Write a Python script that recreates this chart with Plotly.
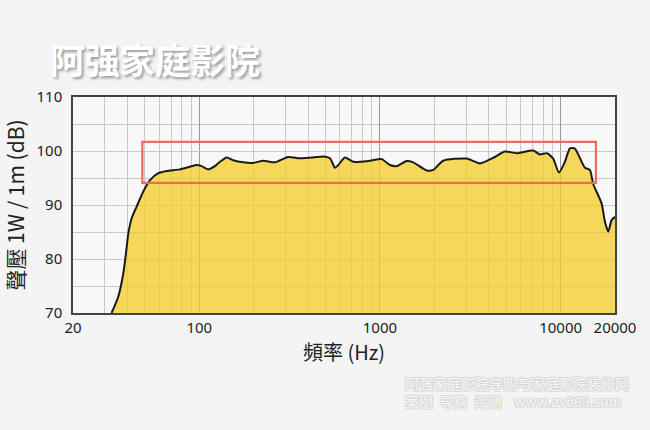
import plotly.graph_objects as go

# Frequency response data
freq_hz = [32.7, 35.6, 38.0, 39.3, 40.5, 42.3, 45.0, 49.0, 53.4, 59.3, 66.0, 78.2, 88.8, 96.7,
           103, 112, 122, 130, 142, 154, 175, 199, 226, 262, 310, 361, 427, 486, 529, 564, 588,
           640, 712, 880, 1022, 1136, 1237, 1405, 1528, 1813, 1972, 2240, 3018, 3577, 4274,
           4917, 5709, 7052, 7682, 8402, 9100, 9786, 10562, 11260, 12000, 12788, 13627, 14523,
           15150, 16860, 17590, 18350, 19150, 20000]
spl_db = [70.0, 73.0, 77.4, 81.1, 84.8, 87.6, 89.7, 92.5, 94.6, 95.9, 96.3, 96.6, 97.1, 97.4,
          97.2, 96.6, 97.2, 98.0, 98.8, 98.3, 97.9, 97.8, 98.2, 97.9, 98.9, 98.65, 98.8, 99.0,
          98.65, 96.9, 97.4, 98.8, 98.0, 98.2, 98.5, 97.4, 97.2, 98.15, 97.9, 96.4, 96.5, 98.2,
          98.6, 97.7, 98.8, 99.9, 99.6, 100.1, 99.35, 99.6, 98.6, 96.0, 98.0, 100.5, 100.45,
          98.7, 96.9, 96.5, 93.9, 90.3, 86.9, 85.05, 87.2, 87.8]

# Highlight box (Hz, dB)
box_f = [48.4, 15680]
box_db = [94.1, 101.7]

x_ticks = [20, 100, 1000, 10000, 20000]
x_minor = [30, 40, 50, 60, 70, 80, 90, 200, 300, 400, 500, 600, 700, 800, 900,
           2000, 3000, 4000, 5000, 6000, 7000, 8000, 9000]
y_ticks = [70, 80, 90, 100, 110]

fig = go.Figure()
fig.add_trace(go.Scatter(
    x=freq_hz, y=spl_db, mode="lines", fill="tozeroy",
    fillcolor="rgba(244,204,38,0.75)",
    line=dict(color="#1a1a1a", width=2, shape="spline", smoothing=0.6),
    hoverinfo="skip", showlegend=False))

fig.add_shape(type="rect", xref="x", yref="y",
              x0=box_f[0], x1=box_f[1], y0=box_db[0], y1=box_db[1],
              line=dict(color="#ee6a5e", width=2.2), fillcolor="rgba(0,0,0,0)")

fig.add_annotation(xref="paper", yref="paper", x=0.151, y=1.18,
                   xanchor="center", yanchor="middle",
                   text="<b>阿强家庭影院</b>", showarrow=False,
                   font=dict(family="Noto Sans CJK SC", size=35, color="#ffffff",
                             shadow="2px 2px 3px #9a9a9a"))
wm_font = dict(family="Noto Sans CJK SC", size=14, color="#f7f7f7",
               shadow="1px 1px 0 #d8d8d8, -1px -1px 0 #d8d8d8, 1px -1px 0 #d8d8d8, -1px 1px 0 #d8d8d8")
fig.add_annotation(xref="paper", yref="paper", x=0.609, y=-0.365,
                   xanchor="left", yanchor="middle", align="left",
                   text="阿强家庭影院导购与家庭影院装修网<br>案例  导购  评测    www.av269.com",
                   showarrow=False, font=wm_font)

fig.update_layout(
    width=650, height=430,
    margin=dict(l=73, r=35, t=97, b=117),
    paper_bgcolor="#f4f4f4", plot_bgcolor="#f8f8f8",
    font=dict(family="Noto Sans CJK TC", color="#222222"),
    xaxis=dict(type="log", range=[1.30103, 4.30103], tickvals=x_ticks,
               ticktext=[str(v) for v in x_ticks],
               showgrid=True, gridcolor="#999999", gridwidth=1,
               minor=dict(tickvals=x_minor, showgrid=True, gridcolor="#c8c8c8", gridwidth=1, ticks=""),
               showline=True, mirror=True, linecolor="#444444", linewidth=1.5,
               ticks="", tickfont=dict(family="Noto Sans", size=15, color="#222"),
               title=dict(text="頻率 (Hz)", font=dict(family="Noto Sans CJK TC", size=20), standoff=6),
               zeroline=False),
    yaxis=dict(range=[70, 110], tickvals=y_ticks,
               showgrid=True, gridcolor="#c8c8c8", gridwidth=1,
               minor=dict(dtick=5, showgrid=True, gridcolor="#c8c8c8", gridwidth=1, ticks=""),
               showline=True, mirror=True, linecolor="#444444", linewidth=1.5,
               ticks="", ticklabelstandoff=6,
               tickfont=dict(family="Noto Sans", size=15, color="#222"),
               title=dict(text="聲壓 1W / 1m (dB)", font=dict(family="Noto Sans CJK TC", size=21), standoff=10),
               zeroline=False),
)

fig.write_html("out.html", config={"displayModeBar": False},
               post_script="document.body.style.margin='0';document.body.style.overflow='hidden';"
                           "document.body.style.background='#f4f4f4';")
